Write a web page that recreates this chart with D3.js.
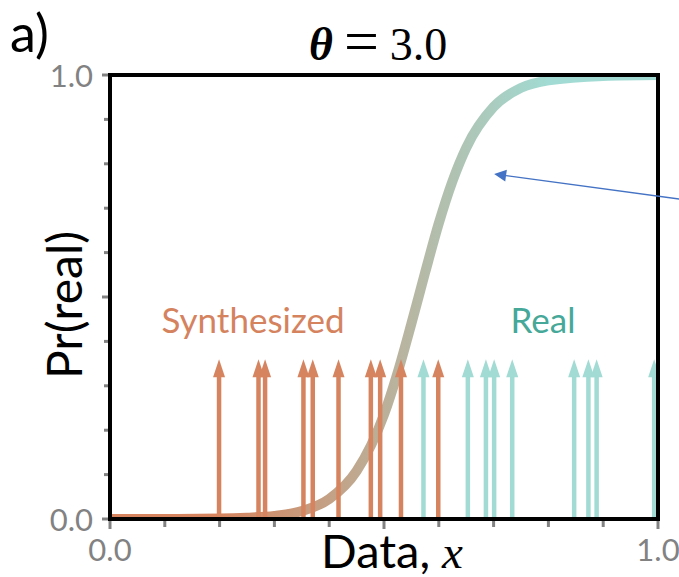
<!DOCTYPE html>
<html>
<head>
<meta charset="utf-8">
<script src="https://cdn.jsdelivr.net/npm/d3@7"></script>
<style>
  html, body { margin: 0; padding: 0; background: #fff; }
  svg { display: block; }
</style>
</head>
<body>
<script>
// ---- data ----
const xTicks = [0, 0.1, 0.2, 0.3, 0.4, 0.5, 0.6, 0.7, 0.8, 0.9, 1.0];
const yTicks = [0, 0.1, 0.2, 0.3, 0.4, 0.5, 0.6, 0.7, 0.8, 0.9, 1.0];
const majorTicks = [0, 0.5, 1.0];
const tickLabelValues = [0, 1.0];
const tickLabelText = ["0.0", "1.0"];

const synthesized = [0.199, 0.271, 0.283, 0.353, 0.370, 0.417, 0.476, 0.493, 0.531, 0.599];
const real = [0.572, 0.653, 0.686, 0.701, 0.734, 0.847, 0.873, 0.888, 0.993];
const arrowTop = 0.36;

// discriminator curve
const curveX = [0, 0.1, 0.2, 0.25, 0.3, 0.35, 0.4, 0.45, 0.5, 0.525, 0.55, 0.575, 0.6, 0.625, 0.65, 0.7, 0.75, 0.8, 0.9, 1.0];
const curveY = [0.000, 0.000, 0.001, 0.003, 0.007, 0.018, 0.045, 0.108, 0.235, 0.330, 0.440, 0.555, 0.666, 0.761, 0.836, 0.928, 0.971, 0.988, 0.998, 1.000];

const annotationTip = [0.701, 0.777];
const annotationTail = [1.06, 0.717];

const titleTheta = "θ";
const titleEq = "=";
const titleValue = "3.0";
const panelLabel = "a)";
const xLabel = "Data, ";
const xLabelVar = "x";
const yLabel = "Pr(real)";
const synthLabel = "Synthesized";
const realLabel = "Real";

// ---- styles ----
const W = 679, H = 577;
const orange = "#d5845f";
const teal = "#a1dbd3";
const orangeText = "#d5835f";
const tealText = "#45a898";
const grey = "#828282";
const sans = "Lato, 'Open Sans', sans-serif";
const serif = "'Liberation Serif', 'DejaVu Serif', serif";

const svg = d3.select("body").append("svg").attr("width", W).attr("height", H);

const x = d3.scaleLinear().domain([0, 1]).range([110, 658]);
const y = d3.scaleLinear().domain([0, 1]).range([519, 75]);

const defs = svg.append("defs");
defs.append("clipPath").attr("id", "plotclip")
  .append("rect").attr("x", x(0)).attr("y", y(1)).attr("width", x(1) - x(0)).attr("height", y(0) - y(1));

const grad = defs.append("linearGradient").attr("id", "curvegrad")
  .attr("gradientUnits", "userSpaceOnUse")
  .attr("x1", x(0.2)).attr("y1", 0).attr("x2", x(0.8)).attr("y2", 0);
grad.append("stop").attr("offset", "0%").attr("stop-color", orange);
grad.append("stop").attr("offset", "100%").attr("stop-color", teal);

// curve
const line = d3.line().x(d => x(d[0])).y(d => y(d[1])).curve(d3.curveMonotoneX);
svg.append("path")
  .attr("clip-path", "url(#plotclip)")
  .attr("d", line(d3.zip(curveX, curveY)))
  .attr("fill", "none")
  .attr("stroke", "url(#curvegrad)")
  .attr("stroke-width", 10)
  .attr("stroke-linecap", "butt");

// arrows
const headLen = 18, headHalf = 6, shaftW = 4.5;
function drawArrows(vals, color) {
  const g = svg.append("g").attr("clip-path", "url(#plotclip)");
  vals.forEach(v => {
    const px = x(v), tip = y(arrowTop);
    g.append("line")
      .attr("x1", px).attr("x2", px)
      .attr("y1", y(0)).attr("y2", tip + headLen - 1)
      .attr("stroke", color).attr("stroke-width", shaftW);
    g.append("path")
      .attr("d", `M${px},${tip} L${px + headHalf},${tip + headLen} L${px - headHalf},${tip + headLen} Z`)
      .attr("fill", color);
  });
}
drawArrows(synthesized, orange);
drawArrows(real, teal);

// ticks
const tickG = svg.append("g");
xTicks.forEach(t => {
  const major = majorTicks.includes(t);
  tickG.append("line")
    .attr("x1", x(t)).attr("x2", x(t))
    .attr("y1", y(0)).attr("y2", y(0) + (major ? 10 : 8))
    .attr("stroke", grey).attr("stroke-width", 3);
});
yTicks.forEach(t => {
  const major = majorTicks.includes(t);
  tickG.append("line")
    .attr("x1", x(0)).attr("x2", x(0) - (major ? 8 : 6))
    .attr("y1", y(t)).attr("y2", y(t))
    .attr("stroke", grey).attr("stroke-width", 3);
});

// frame
svg.append("rect")
  .attr("x", x(0)).attr("y", y(1))
  .attr("width", x(1) - x(0)).attr("height", y(0) - y(1))
  .attr("fill", "none").attr("stroke", "#000").attr("stroke-width", 4);

// tick labels
tickLabelValues.forEach((v, i) => {
  svg.append("text")
    .attr("x", x(0) - 17).attr("y", y(v))
    .attr("text-anchor", "end").attr("dominant-baseline", "central")
    .attr("font-family", sans).attr("font-size", 31).attr("fill", grey)
    .text(tickLabelText[i]);
  svg.append("text")
    .attr("x", x(v)).attr("y", 561)
    .attr("text-anchor", "middle")
    .attr("font-family", sans).attr("font-size", 31).attr("fill", grey)
    .text(tickLabelText[i]);
});

// axis titles
const xt = svg.append("text")
  .attr("x", 392).attr("y", 568)
  .attr("text-anchor", "middle")
  .attr("font-family", sans).attr("font-size", 47).attr("fill", "#000");
xt.append("tspan").text(xLabel);
xt.append("tspan").attr("font-family", serif).attr("font-style", "italic").text(xLabelVar);

svg.append("text")
  .attr("transform", "translate(82,305) rotate(-90)")
  .attr("text-anchor", "middle")
  .attr("font-family", sans).attr("font-size", 48).attr("fill", "#000")
  .text(yLabel);

// title
const tt = svg.append("text")
  .attr("x", 309).attr("y", 60)
  .attr("text-anchor", "start")
  .attr("font-family", serif).attr("font-size", 46).attr("fill", "#000");
tt.append("tspan").attr("font-weight", "bold").attr("font-style", "italic").text(titleTheta);
tt.append("tspan").attr("dx", 11).attr("dy", 2).attr("font-size", 62).text(titleEq);
tt.append("tspan").attr("dx", 11).attr("dy", -2).text(titleValue);

// panel label
svg.append("text")
  .attr("x", 10).attr("y", 52)
  .attr("font-family", sans).attr("font-size", 52).attr("fill", "#000")
  .text(panelLabel);

// series labels
svg.append("text")
  .attr("x", 253).attr("y", 333)
  .attr("text-anchor", "middle")
  .attr("font-family", sans).attr("font-size", 35).attr("fill", orangeText)
  .text(synthLabel);
svg.append("text")
  .attr("x", 543).attr("y", 333)
  .attr("text-anchor", "middle")
  .attr("font-family", sans).attr("font-size", 35).attr("fill", tealText)
  .text(realLabel);

// annotation arrow
const blue = "#4472c4";
const tx = x(annotationTip[0]), ty = y(annotationTip[1]);
const ex = x(annotationTail[0]), ey = y(annotationTail[1]);
const ang = Math.atan2(ey - ty, ex - tx);
const hl = 12, hw = 6;
const bx = tx + hl * Math.cos(ang), by = ty + hl * Math.sin(ang);
svg.append("line")
  .attr("x1", bx).attr("y1", by).attr("x2", ex).attr("y2", ey)
  .attr("stroke", blue).attr("stroke-width", 1.4);
svg.append("path")
  .attr("d", `M${tx},${ty} L${bx + hw * Math.sin(ang)},${by - hw * Math.cos(ang)} L${bx - hw * Math.sin(ang)},${by + hw * Math.cos(ang)} Z`)
  .attr("fill", blue);
</script>
</body>
</html>
